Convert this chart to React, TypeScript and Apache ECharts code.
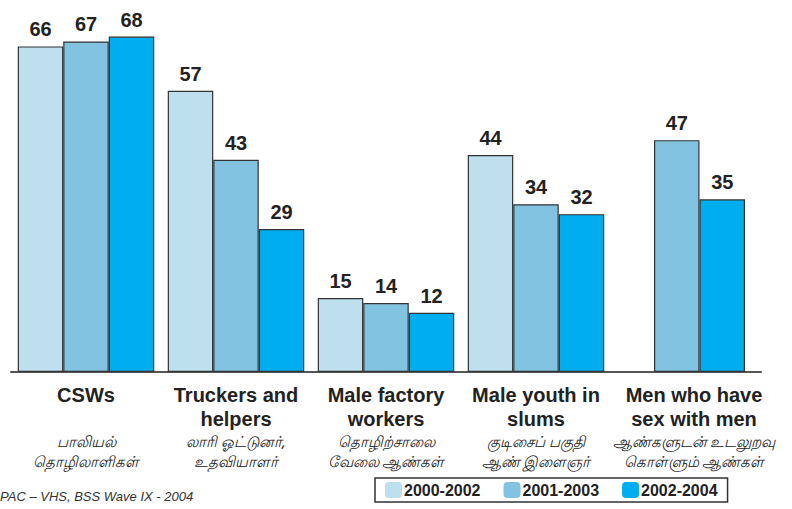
import React, { useEffect, useRef } from "react";
import * as echarts from "echarts";

const categories = [
  "CSWs",
  "Truckers and\nhelpers",
  "Male factory\nworkers",
  "Male youth in\nslums",
  "Men who have\nsex with men",
];
const tamilLabels = [
  "பாலியல்\nதொழிலாளிகள்",
  "லாரி ஓட்டுனர்,\nஉதவியாளர்",
  "தொழிற்சாலை\nவேலை ஆண்கள்",
  "குடிசைப் பகுதி\nஆண் இளைஞர்",
  "ஆண்களுடன் உடலுறவு\nகொள்ளும் ஆண்கள்",
];
const seriesNames = ["2000-2002", "2001-2003", "2002-2004"];
const values2000_2002 = [66, 57, 15, 44, null];
const values2001_2003 = [67, 43, 14, 34, 47];
const values2002_2004 = [68, 29, 12, 32, 35];
const sourceText = "PAC – VHS, BSS Wave IX - 2004";
// category whose bars are drawn as a separate, two-bar group
const twoBarCategory = 4;

const COLORS = ["#BEDFEE", "#82C3E1", "#00AEEF"];
const FONT = "'Liberation Sans', Arial, Helvetica, sans-serif";

export default function App() {
  const ref = useRef<HTMLDivElement>(null);

  useEffect(() => {
    if (!ref.current) return;
    const chart = echarts.init(ref.current, null, { renderer: "svg" });
    const allValues = [values2000_2002, values2001_2003, values2002_2004];

    const labelStyle = {
      show: true,
      position: "top" as const,
      distance: 7,
      fontSize: 20,
      fontWeight: "bold" as const,
      color: "#222",
      fontFamily: FONT,
    };
    const barCommon = {
      type: "bar" as const,
      barWidth: 45.5,
      barGap: "0%",
      itemStyle: { borderColor: "#333", borderWidth: 1.2 },
      label: labelStyle,
      emphasis: { disabled: true },
    };

    const mainSeries = allValues.map((vals, s) => ({
      ...barCommon,
      name: seriesNames[s],
      xAxisIndex: 0,
      itemStyle: { ...barCommon.itemStyle, color: COLORS[s] },
      data: vals.map((v, i) => (i === twoBarCategory ? null : v)),
    }));

    const spacer = {
      type: "bar" as const,
      name: "spacer",
      xAxisIndex: 1,
      barWidth: 27,
      barGap: "0%",
      silent: true,
      data: categories.map(() => null),
    };

    const twoBarSeries = [1, 2].map((s) => ({
      ...barCommon,
      name: seriesNames[s],
      xAxisIndex: 1,
      itemStyle: { ...barCommon.itemStyle, color: COLORS[s] },
      data: allValues[s].map((v, i) => (i === twoBarCategory ? v : null)),
    }));

    const bStyle = { fontSize: 20, fontWeight: "bold", color: "#222", lineHeight: 24, fontFamily: FONT };
    const tStyle = {
      fontSize: 15,
      fontStyle: "oblique",
      color: "#222",
      lineHeight: 20,
      fontFamily: "'Noto Sans', " + FONT,
    };

    chart.setOption({
      animation: false,
      textStyle: { fontFamily: FONT },
      grid: { left: 11, right: 31, top: 2, bottom: 137, containLabel: false },
      legend: {
        data: seriesNames,
        left: 375,
        top: 478,
        orient: "horizontal",
        itemWidth: 17,
        itemHeight: 16,
        itemGap: 23,
        padding: [4, 10, 4, 10],
        borderColor: "#333",
        borderWidth: 1.5,
        itemStyle: { borderWidth: 0 },
        textStyle: { fontSize: 16, fontWeight: "bold", color: "#222", fontFamily: FONT, padding: [0, 0, 0, -3] },
        selectedMode: false,
      },
      xAxis: [
        {
          type: "category",
          data: categories,
          axisLine: { show: true, lineStyle: { color: "#555", width: 2 } },
          axisTick: { show: false },
          axisLabel: {
            interval: 0,
            margin: 11,
            formatter: (value: string, idx: number) => {
              const lines = value.split("\n");
              while (lines.length < 2) lines.push(" ");
              const sfx = idx === twoBarCategory ? "2" : "";
              const en = lines.map((l) => `{b${sfx}|${l}}`).join("\n");
              const ta = tamilLabels[idx].split("\n").map((l) => `{t${sfx}|${l}}`).join("\n");
              return `${en}\n${ta}`;
            },
            rich: {
              b: bStyle,
              t: tStyle,
              b2: { ...bStyle, padding: [0, 0, 0, 16] },
              t2: { ...tStyle, padding: [0, 0, 0, 16] },
            },
          },
        },
        {
          type: "category",
          data: categories,
          show: false,
        },
      ],
      yAxis: {
        type: "value",
        min: 0,
        max: 75,
        show: false,
        splitLine: { show: false },
      },
      series: [...mainSeries, spacer, ...twoBarSeries],
      graphic: [
        {
          type: "text",
          left: 0,
          top: 490,
          style: {
            text: sourceText,
            font: `italic 13px ${FONT}`,
            fill: "#333",
          },
        },
      ],
    });

    return () => chart.dispose();
  }, []);

  return (
    <div
      ref={ref}
      style={{ position: "fixed", left: 0, top: 0, width: 792, height: 509, background: "#fff" }}
    />
  );
}
